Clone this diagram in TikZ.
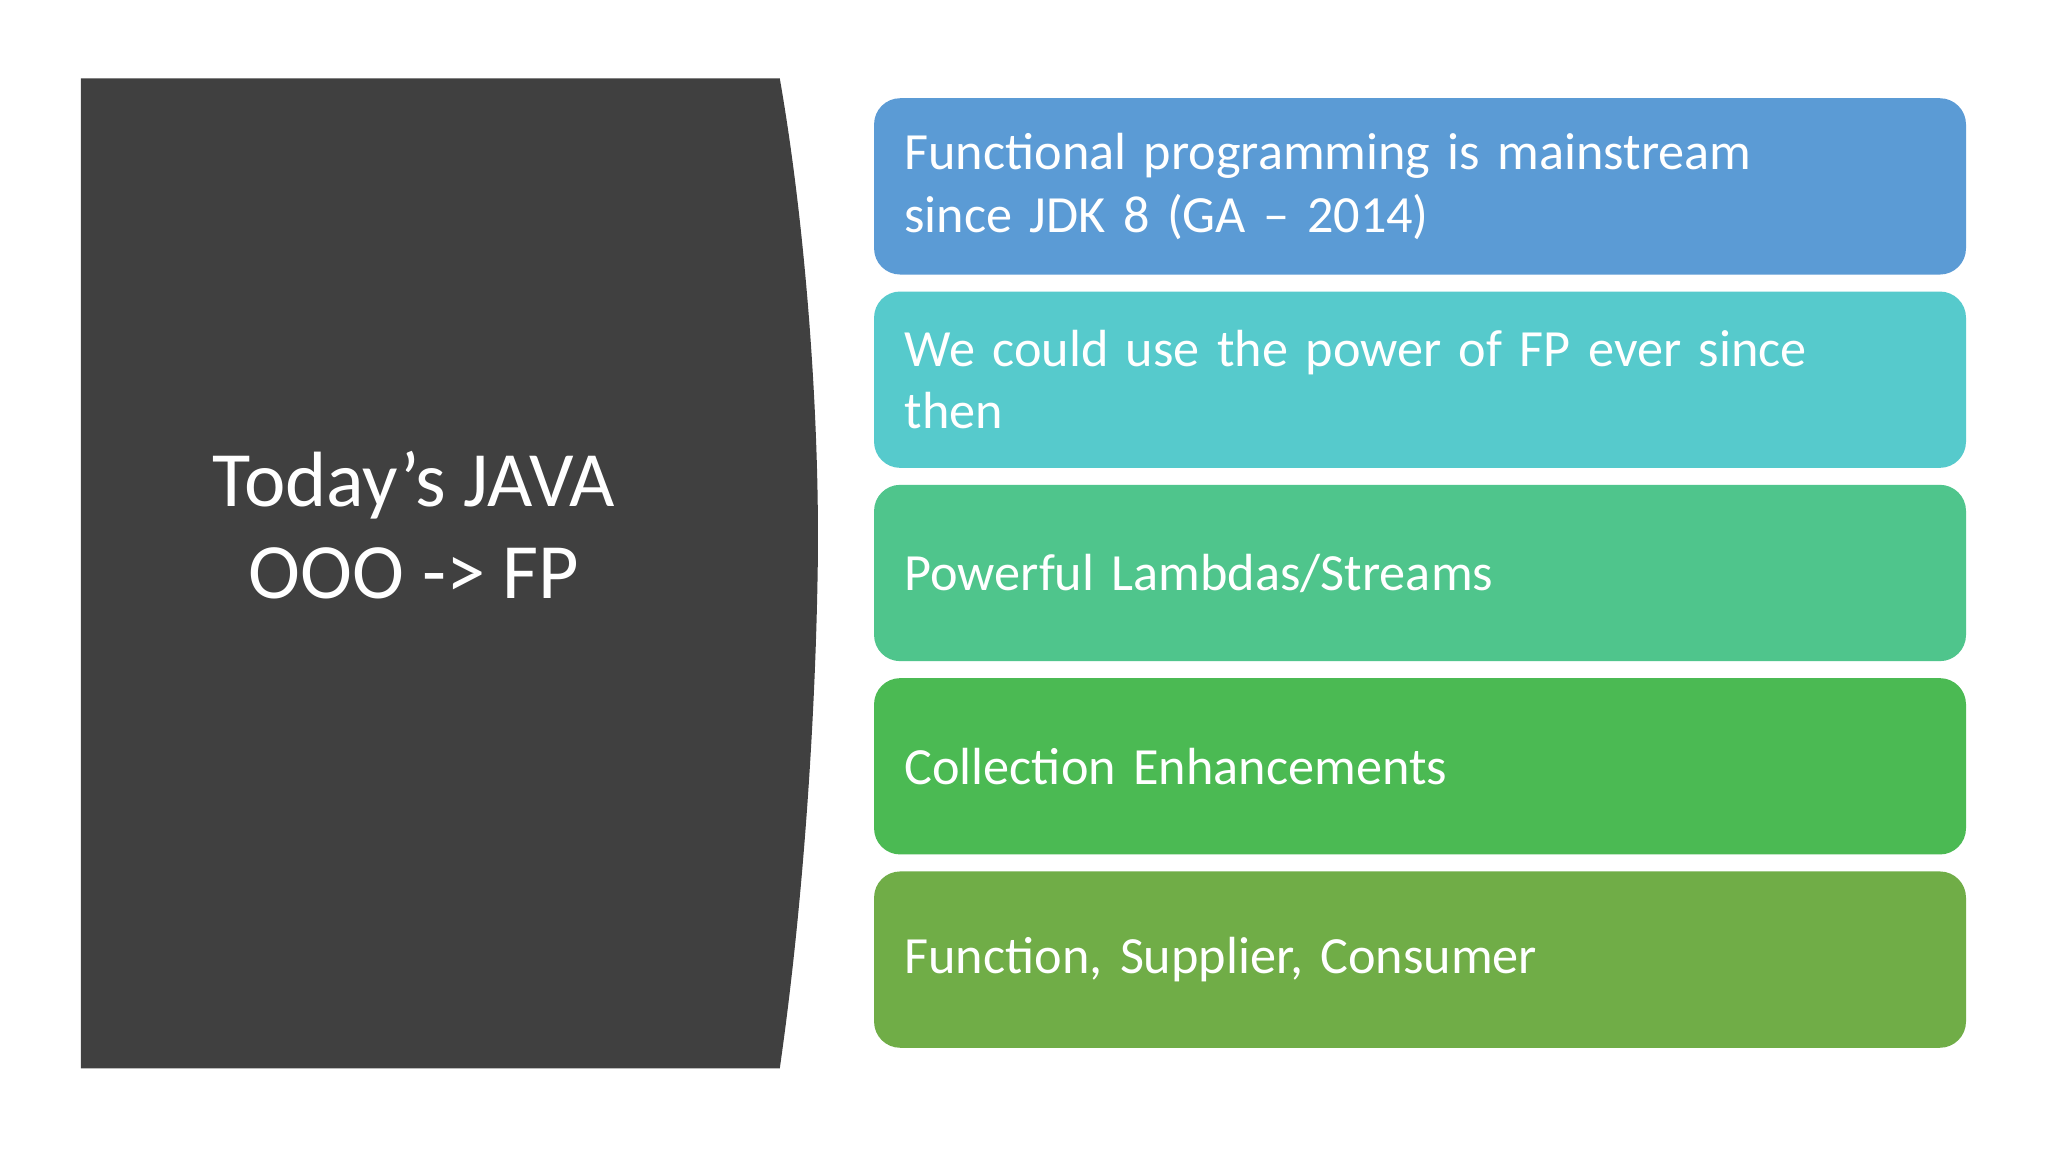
\documentclass[tikz,border=0pt]{standalone}
\usepackage{fontspec}
\setmainfont{Carlito}
\definecolor{dark}{HTML}{404040}
\definecolor{cA}{HTML}{5B9BD5}
\definecolor{cB}{HTML}{56CACC}
\definecolor{cC}{HTML}{4FC58C}
\definecolor{cD}{HTML}{4BBA53}
\definecolor{cE}{HTML}{70AD47}
\tikzset{
  item/.style={rounded corners=20pt, minimum width=836pt, minimum height=135pt, anchor=north west, inner sep=0pt},
  itext/.style={text=white, font=\fontsize{40}{48}\selectfont, align=left, anchor=west, text width=780pt}
}
\begin{document}
\begin{tikzpicture}[x=1pt,y=-1pt]
\useasboundingbox (0,0) rectangle (1568,882);
\fill[white] (0,0) rectangle (1568,882);
\fill[dark] (62,60) -- (597,60) .. controls (618,180) and (628,330) .. (626,439) .. controls (624,560) and (614,700) .. (597,818) -- (62,818) -- cycle;
\node[text=white, font=\fontsize{60}{70}\selectfont, align=center] (title) at (317,402) {Today’s JAVA\\OOO -> FP};
\node[item, fill=cA] (b1) at (669,75) {};
\node[item, fill=cB] (b2) at (669,223) {};
\node[item, fill=cC] (b3) at (669,371) {};
\node[item, fill=cD] (b4) at (669,519) {};
\node[item, fill=cE] (b5) at (669,667) {};
\node[itext] (t1) at ([xshift=20pt]b1.west) {Functional programming is mainstream\\since JDK 8 (GA – 2014)};
\node[itext] (t2) at ([xshift=20pt]b2.west) {We could use the power of FP ever since\\then};
\node[itext] (t3) at ([xshift=20pt]b3.west) {Powerful Lambdas/Streams};
\node[itext] (t4) at ([xshift=20pt]b4.west) {Collection Enhancements};
\node[itext] (t5) at ([xshift=20pt]b5.west) {Function, Supplier, Consumer};
\end{tikzpicture}
\end{document}
